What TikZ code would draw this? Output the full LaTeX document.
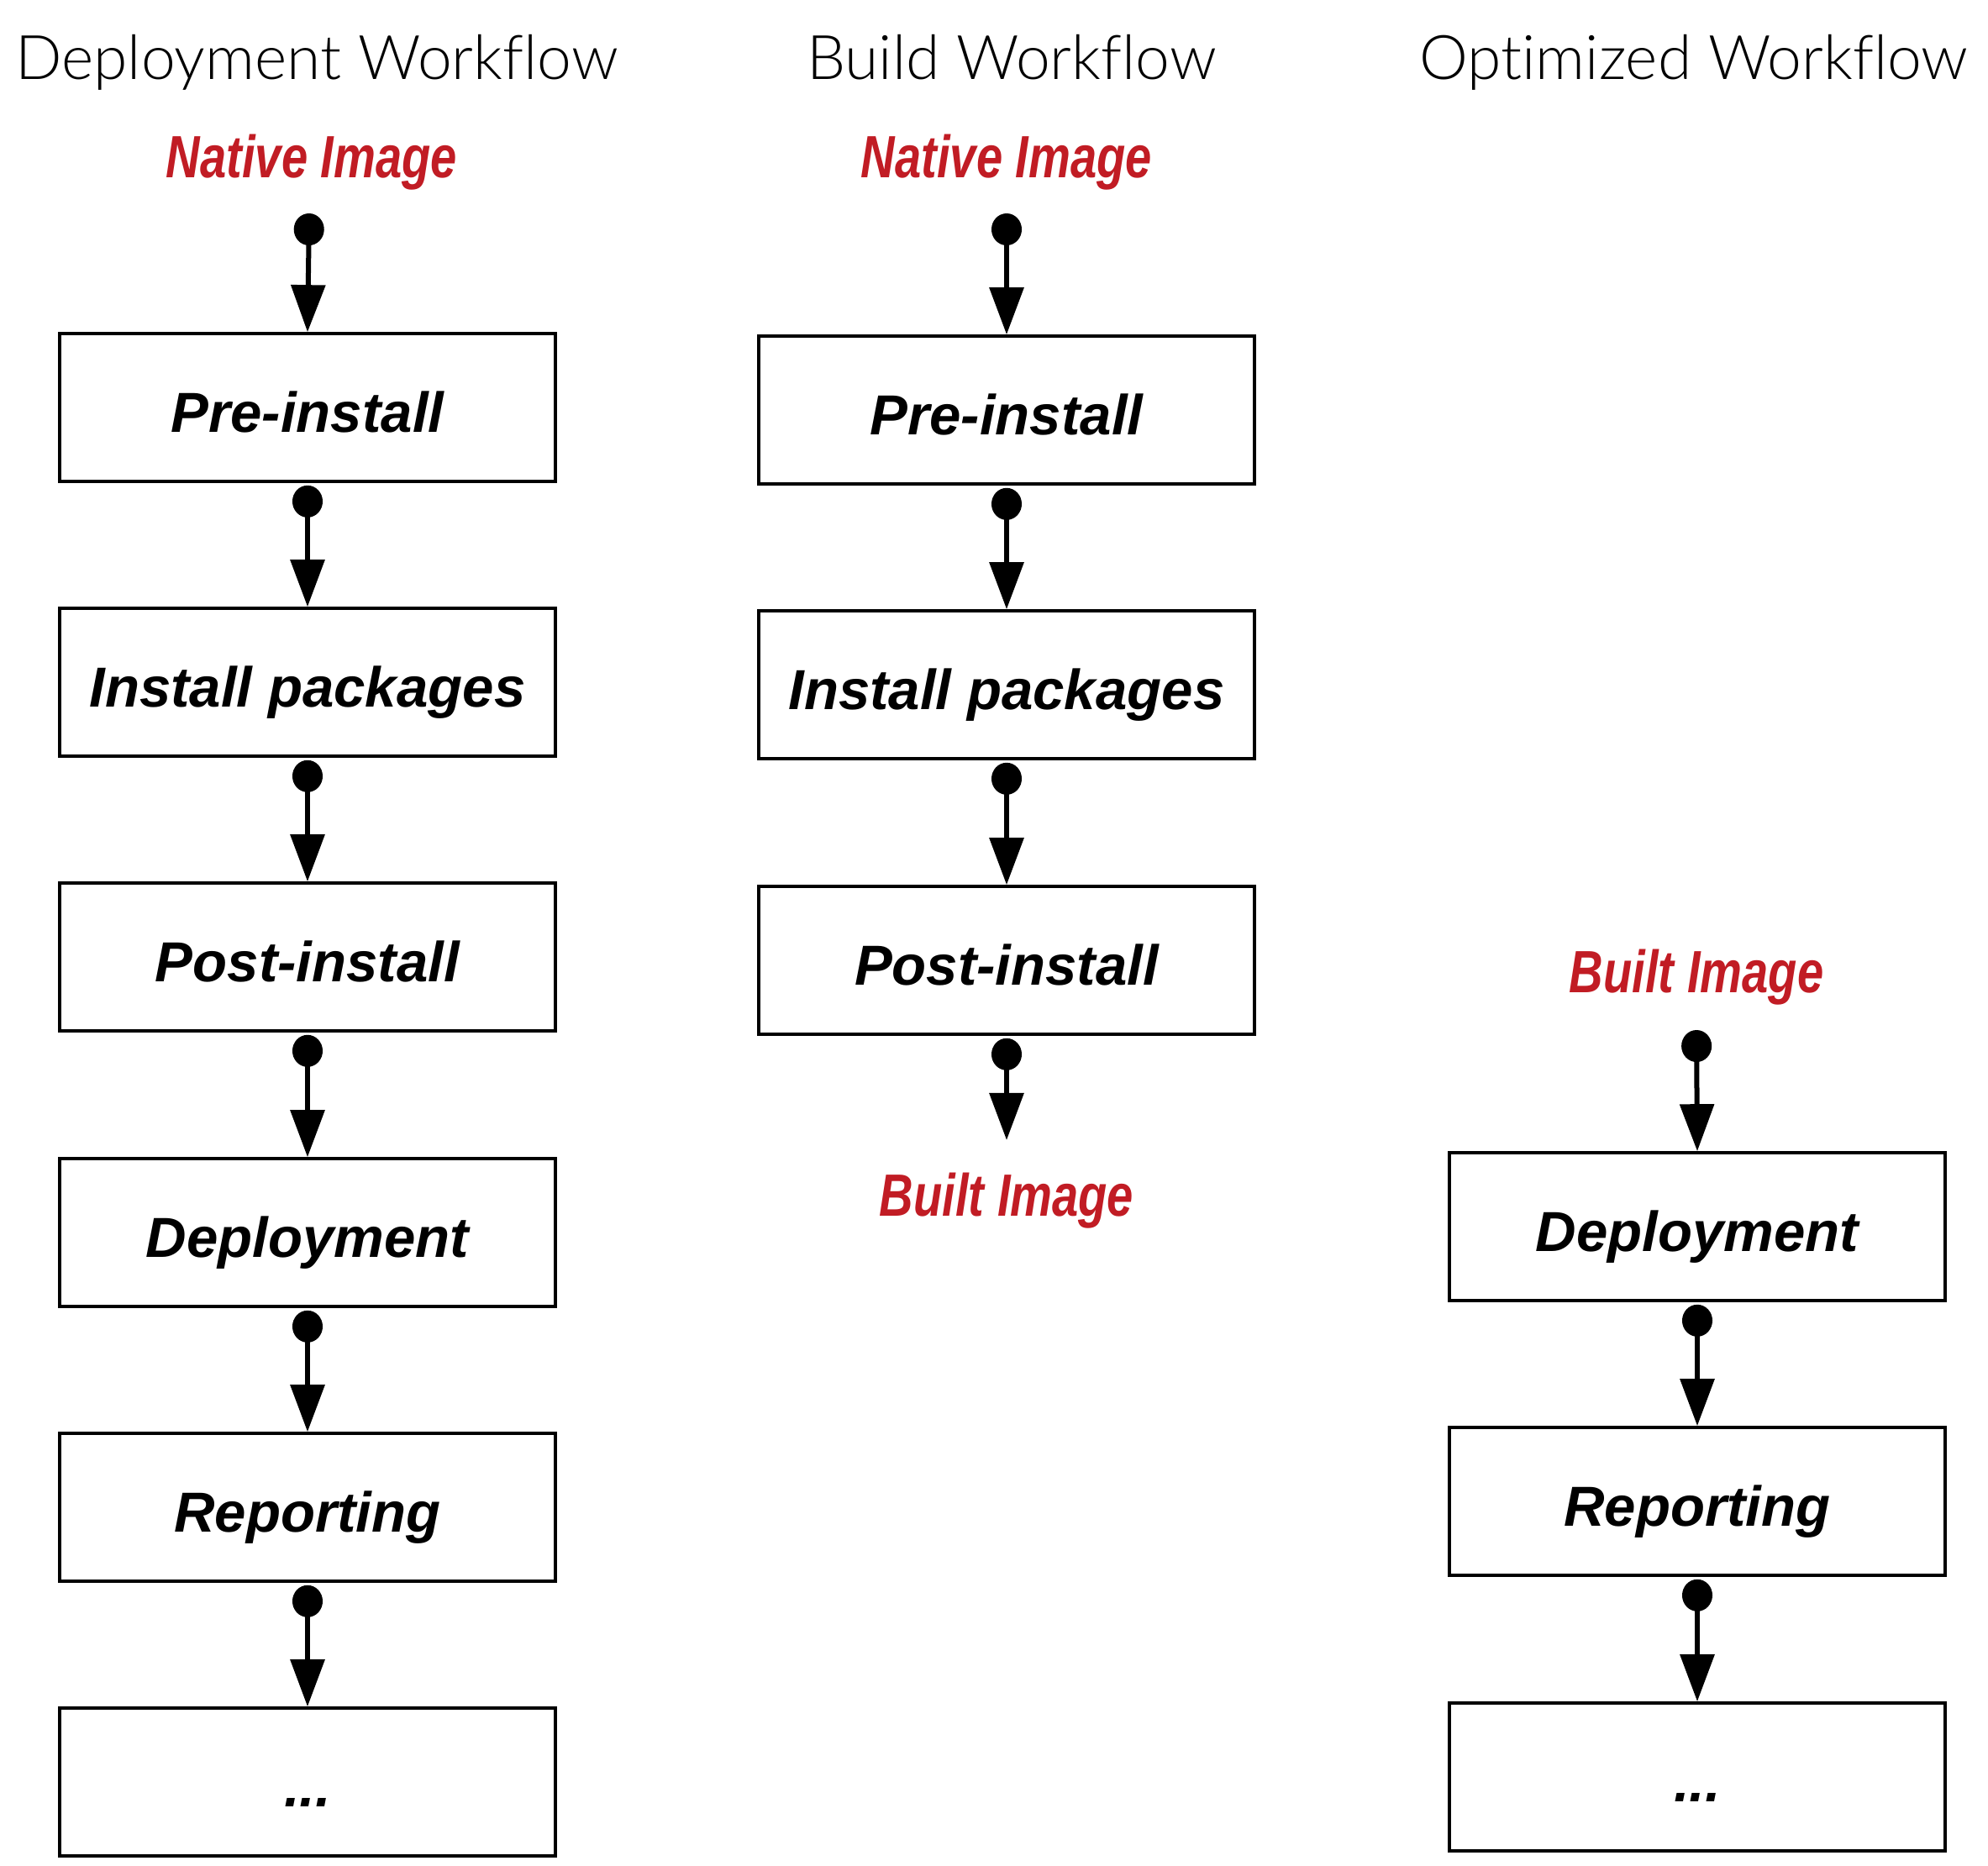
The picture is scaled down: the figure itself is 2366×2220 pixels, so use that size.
\documentclass[tikz,border=0pt]{standalone}
\usepackage{fontspec}
\setmainfont{Liberation Sans}
\newfontfamily\titlefont[Ligatures=NoCommon,RawFeature={-liga;-clig;-dlig}]{Lato Light}
\newfontfamily\redfont[FakeStretch=0.79]{Liberation Sans}
\usetikzlibrary{arrows.meta}
\definecolor{imgred}{RGB}{193,28,36}
\begin{document}
\begin{tikzpicture}[x=0.01cm,y=-0.01cm,
  titlestyle/.style={anchor=base,inner sep=0pt,font=\titlefont\fontsize{20.8pt}{24pt}\selectfont},
  redlabel/.style={anchor=base,inner sep=0pt,text=imgred,font=\redfont\bfseries\itshape\fontsize{20.2pt}{24pt}\selectfont},
  box/.style={draw,line width=0.035cm,minimum width=5.9cm,minimum height=1.76cm,inner sep=0pt,
    text height=0.7cm,text depth=0.12cm,font=\bfseries\itshape\fontsize{19.1pt}{23pt}\selectfont},
  conn/.style={line width=0.06cm,{Circle[length=0.38cm,width=0.36cm]}-{Triangle[length=0.56cm,width=0.40cm]}}
]
\useasboundingbox (0,0) rectangle (2366,2220);
% titles
\node[titlestyle] (t1) at (377,94) {Deployment Workf\kern0pt low};
\node[titlestyle] (t2) at (1204,94) {Build Workf\kern0pt low};
\node[titlestyle] (t3) at (2016,94) {Opt\kern0pt imized Workf\kern0pt low};
% red labels
\node[redlabel] (n1) at (371,211) {Native Image};
\node[redlabel] (n2) at (1198,211) {Native Image};
\node[redlabel] (b2) at (1198,1447) {Built Image};
\node[redlabel] (b3) at (2019,1181) {Built Image};
% column 1
\node[box] (d1) at (366,485) {Pre-install};
\node[box] (d2) at (366,812) {Install packages};
\node[box] (d3) at (366,1139) {Post-install};
\node[box] (d4) at (366,1467) {Deployment};
\node[box] (d5) at (366,1794) {Reporting};
\node[box] (d6) at (366,2121) {...};
% column 2
\node[box] (c1) at (1198,488) {Pre-install};
\node[box] (c2) at (1198,815) {Install packages};
\node[box] (c3) at (1198,1143) {Post-install};
% column 3
\node[box] (o1) at (2020,1460) {Deployment};
\node[box] (o2) at (2020,1787) {Reporting};
\node[box] (o3) at (2020,2115) {...};
% free ends
\coordinate (s1) at (368,254);
\coordinate (s2) at (1198,254);
\coordinate (s3) at (2019,1226);
\coordinate (e2) at (1198,1357);
% connectors
\draw[conn] (s1) -- (d1.north);
\draw[conn] ([yshift=-0.03cm]d1.south) -- (d2.north);
\draw[conn] ([yshift=-0.03cm]d2.south) -- (d3.north);
\draw[conn] ([yshift=-0.03cm]d3.south) -- (d4.north);
\draw[conn] ([yshift=-0.03cm]d4.south) -- (d5.north);
\draw[conn] ([yshift=-0.03cm]d5.south) -- (d6.north);
\draw[conn] (s2) -- (c1.north);
\draw[conn] ([yshift=-0.03cm]c1.south) -- (c2.north);
\draw[conn] ([yshift=-0.03cm]c2.south) -- (c3.north);
\draw[conn] ([yshift=-0.03cm]c3.south) -- (e2);
\draw[conn] (s3) -- (o1.north);
\draw[conn] ([yshift=-0.03cm]o1.south) -- (o2.north);
\draw[conn] ([yshift=-0.03cm]o2.south) -- (o3.north);
\end{tikzpicture}
\end{document}
